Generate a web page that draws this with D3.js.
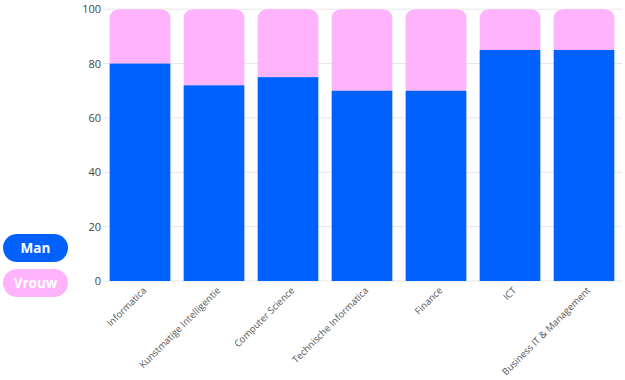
<!DOCTYPE html>
<html><head><meta charset="utf-8">
<script src="https://cdn.jsdelivr.net/npm/d3@7"></script>
<style>body{margin:0;background:#fff;} svg{display:block;}</style>
</head><body>
<svg id="c" width="625" height="380"></svg>
<script>
const categories = ["Informatica","Kunstmatige Intelligentie","Computer Science","Technische Informatica","Finance","ICT","Business IT & Management"];
const man = [80,72,75,70,70,85,85];
const vrouw = [20,28,25,30,30,15,15];
const yTicks = [0,20,40,60,80,100];
const seriesNames = ["Man","Vrouw"];
const colors = ["#0061FF","#FFB3FC"];

const svg = d3.select("#c");
const x = d3.scaleBand().domain(categories).range([103,621]).paddingInner(0.18).paddingOuter(0.09);
const y = d3.scaleLinear().domain([0,100]).range([281,9.2]);
const font = "'Open Sans', sans-serif";

// gridlines
svg.append("g").selectAll("line").data(yTicks).join("line")
  .attr("x1",103).attr("x2",622).attr("y1",d=>y(d)).attr("y2",d=>y(d))
  .attr("stroke","#e6e6e6").attr("stroke-width",1);

// y axis labels
const yAxis = d3.axisLeft(y).tickValues(yTicks).tickSize(0).tickPadding(0);
const gy = svg.append("g").attr("transform","translate(101,0)").call(yAxis);
gy.select(".domain").remove();
gy.selectAll("text").attr("font-family",font).attr("font-size",11).attr("fill","#444");

const r = 10;
function roundedTop(x0,y0,w,h,rr){
  return `M${x0},${y0+h}V${y0+rr}Q${x0},${y0} ${x0+rr},${y0}H${x0+w-rr}Q${x0+w},${y0} ${x0+w},${y0+rr}V${y0+h}Z`;
}
const stackData = categories.map((c,i)=>({c, m:man[i], v:vrouw[i]}));
svg.append("g").selectAll("path").data(stackData).join("path")
  .attr("d",d=>{const x0=x(d.c), w=x.bandwidth(); const top=y(d.m+d.v); return roundedTop(x0,top,w,y(d.m)-top,r);})
  .attr("fill",colors[1]);
svg.append("g").selectAll("rect").data(stackData).join("rect")
  .attr("x",d=>x(d.c)).attr("width",x.bandwidth())
  .attr("y",d=>y(d.m)).attr("height",d=>y(0)-y(d.m))
  .attr("fill",colors[0]);

// x labels
const gx = svg.append("g").attr("transform","translate(0,281)").call(d3.axisBottom(x).tickSize(0).tickPadding(0));
gx.select(".domain").remove();
gx.selectAll("text").attr("font-family",font).attr("font-size",9.5).attr("fill","#555")
  .attr("text-anchor","end").attr("dy",0)
  .attr("transform","translate(7,10) rotate(-45)");

// legend
const lg = svg.append("g");
seriesNames.forEach((s,i)=>{
  const yy = 234 + i*35;
  lg.append("rect").attr("x",3).attr("y",yy).attr("width",65).attr("height",28).attr("rx",14).attr("fill",colors[i]);
  lg.append("text").attr("x",35.5).attr("y",yy+19).attr("text-anchor","middle")
    .attr("font-family",font).attr("font-weight","bold").attr("font-size",13.5).attr("fill","#fff").text(s);
});
</script>
</body></html>
